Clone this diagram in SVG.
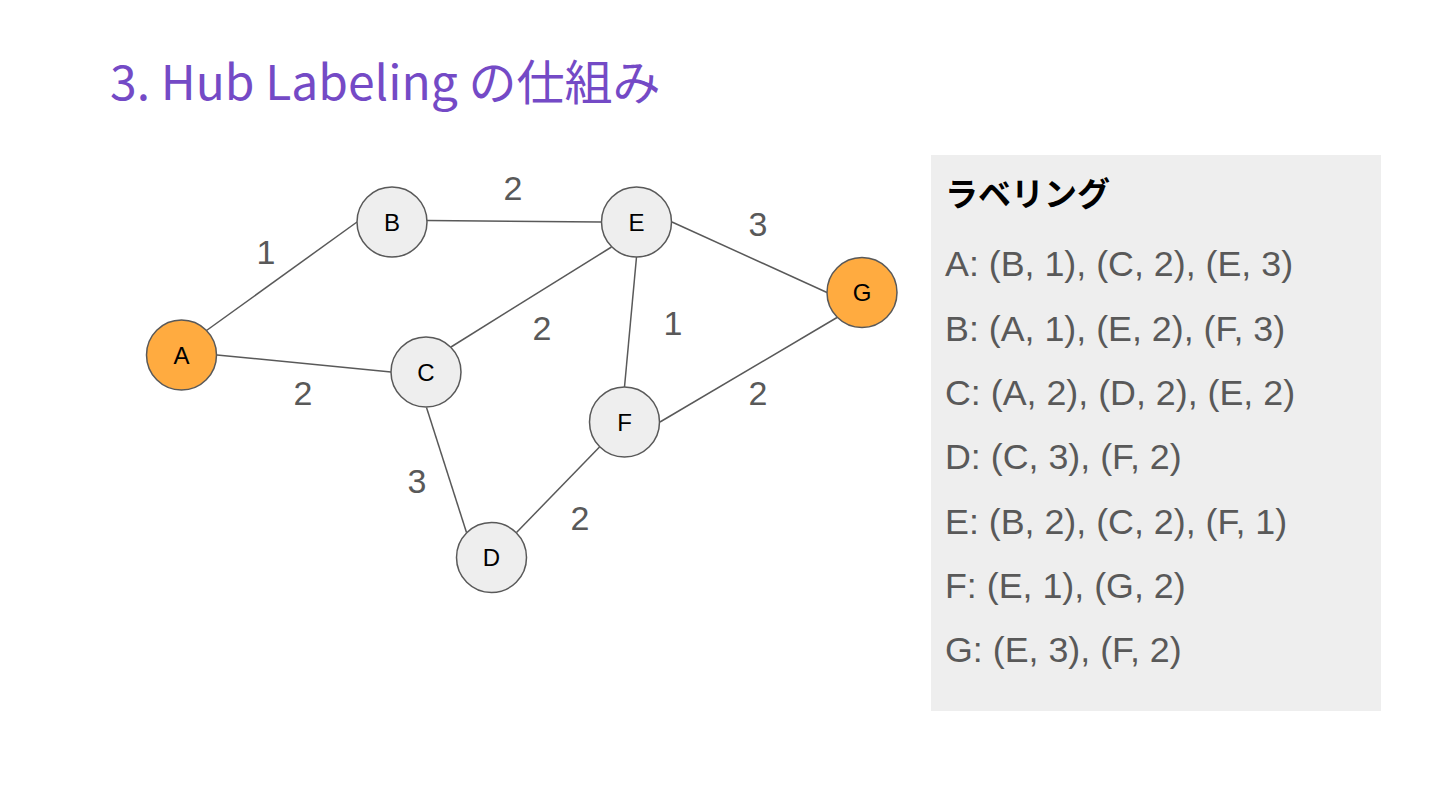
<svg xmlns="http://www.w3.org/2000/svg" width="1440" height="810" viewBox="0 0 1440 810">
<style>
.edge{stroke:#595959;stroke-width:1.5;fill:none}
.node{fill:#eeeeee;stroke:#595959;stroke-width:1.5}
.hub{fill:#ffab40;stroke:#595959;stroke-width:1.5}
.nl{font-family:"Liberation Sans",Arial,sans-serif;font-size:24px;fill:#000;text-anchor:middle}
.el{font-family:"Liberation Sans",Arial,sans-serif;font-size:34px;fill:#595959;text-anchor:middle}
.pt{font-family:"Liberation Sans",Arial,sans-serif;font-size:35.8px;fill:#595959}
</style>
<rect width="1440" height="810" fill="#ffffff"/>
<text x="110" y="100" font-family="'Noto Sans CJK JP',sans-serif" font-size="48" fill="#744ac6">3. Hub Labeling の仕組み</text>
<g id="connectors">
<line class="edge" x1="206.5" y1="330.5" x2="357" y2="222"/>
<line class="edge" x1="217" y1="355" x2="391" y2="372"/>
<line class="edge" x1="427" y1="220.5" x2="601" y2="222"/>
<line class="edge" x1="451" y1="347" x2="611.5" y2="247"/>
<line class="edge" x1="426.5" y1="407.5" x2="466.5" y2="532.5"/>
<line class="edge" x1="516.5" y1="532.5" x2="599.5" y2="447"/>
<line class="edge" x1="636.5" y1="257" x2="624.5" y2="387"/>
<line class="edge" x1="672" y1="222" x2="827" y2="292.5"/>
<line class="edge" x1="660" y1="422" x2="837" y2="317.5"/>
<text class="el" x="266" y="264">1</text>
<text class="el" x="303" y="405">2</text>
<text class="el" x="513" y="200">2</text>
<text class="el" x="542" y="340">2</text>
<text class="el" x="673" y="335">1</text>
<text class="el" x="758" y="236">3</text>
<text class="el" x="758" y="405">2</text>
<text class="el" x="417" y="493">3</text>
<text class="el" x="580" y="530">2</text>
</g>
<g id="node-A"><circle class="hub" cx="181.5" cy="355" r="35"/><text class="nl" x="181.5" y="363.5">A</text></g>
<g id="node-B"><circle class="node" cx="392" cy="222" r="35"/><text class="nl" x="392" y="230.5">B</text></g>
<g id="node-C"><circle class="node" cx="426" cy="372" r="35"/><text class="nl" x="426" y="380.5">C</text></g>
<g id="node-D"><circle class="node" cx="491.5" cy="557.5" r="35"/><text class="nl" x="491.5" y="566">D</text></g>
<g id="node-E"><circle class="node" cx="636.5" cy="222" r="35"/><text class="nl" x="636.5" y="230.5">E</text></g>
<g id="node-F"><circle class="node" cx="624.5" cy="422" r="35"/><text class="nl" x="624.5" y="430.5">F</text></g>
<g id="node-G"><circle class="hub" cx="862" cy="292.5" r="35"/><text class="nl" x="862" y="301">G</text></g>
<g id="labeling-panel">
<rect x="931" y="155" width="450" height="556" fill="#eeeeee"/>
<text x="945" y="206" font-family="'Noto Sans CJK JP',sans-serif" font-size="33" font-weight="700" fill="#000">ラベリング</text>
<text class="pt" x="945" y="276">A: (B, 1), (C, 2), (E, 3)</text>
<text class="pt" x="945" y="340.5">B: (A, 1), (E, 2), (F, 3)</text>
<text class="pt" x="945" y="405">C: (A, 2), (D, 2), (E, 2)</text>
<text class="pt" x="945" y="469">D: (C, 3), (F, 2)</text>
<text class="pt" x="945" y="533.5">E: (B, 2), (C, 2), (F, 1)</text>
<text class="pt" x="945" y="598">F: (E, 1), (G, 2)</text>
<text class="pt" x="945" y="662">G: (E, 3), (F, 2)</text>
</g>
</svg>
